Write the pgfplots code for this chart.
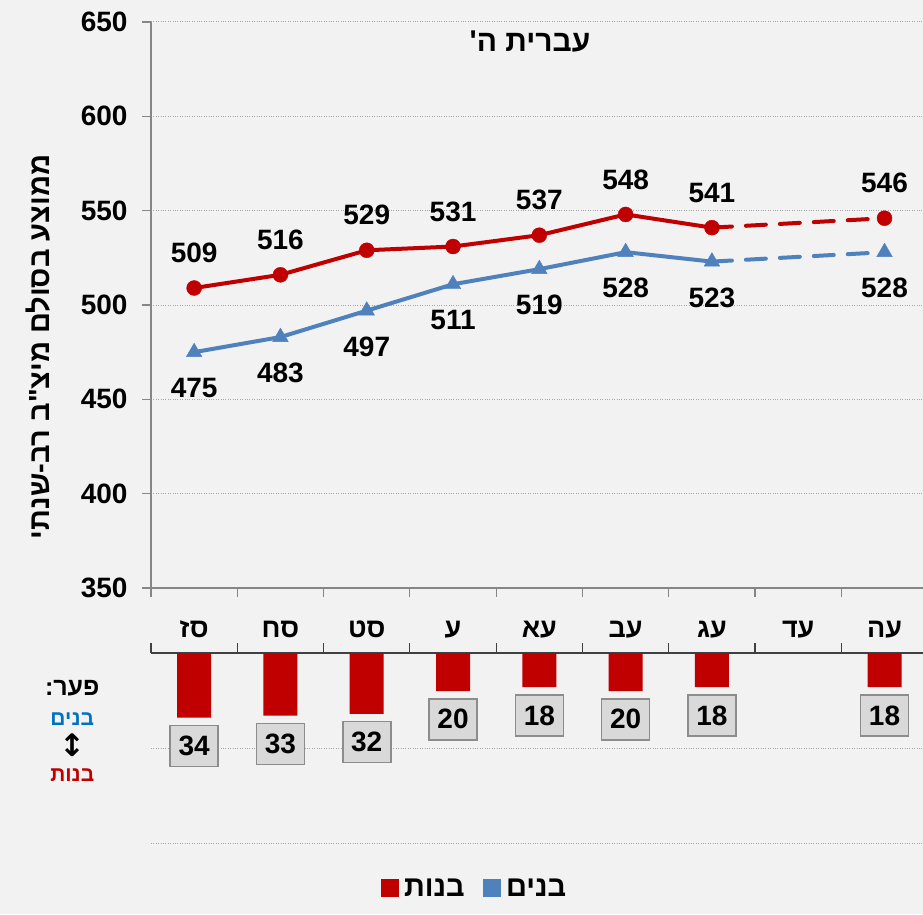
\documentclass[border=0pt]{standalone}
\usepackage{pgfplots}
\pgfplotsset{compat=1.18}
\usepackage{fontspec}
\setmainfont{Liberation Sans}
\newfontfamily\heb[Script=Hebrew]{Liberation Sans}
\newfontfamily\dejavu{DejaVu Sans}
\TeXXeTstate=1
\newcommand\fs[1]{\fontsize{#1}{#1}\selectfont\bfseries}
\definecolor{bg}{HTML}{F2F2F2}
\definecolor{myred}{HTML}{C00000}
\definecolor{myblue}{HTML}{4F81BD}
\definecolor{labblue}{HTML}{0070C0}
\definecolor{axgray}{HTML}{868686}
\definecolor{gridgray}{HTML}{A6A6A6}
\definecolor{boxfill}{HTML}{D9D9D9}
\definecolor{boxdraw}{HTML}{8C8C8C}

\begin{document}
\begin{tikzpicture}
\fill[bg] (0,0) rectangle (923pt,914pt);
\begin{axis}[
  at={(151pt,326pt)}, anchor=south west,
  width=772pt, height=566pt, scale only axis,
  xmin=-0.5, xmax=8.446, ymin=350, ymax=650,
  axis lines*=left,
  axis line style={axgray, line width=1.3pt},
  tick align=outside, major tick length=9pt,
  tick style={axgray, line width=1.2pt},
  xtick={-0.5,0.5,...,8.5}, xticklabels={},
  extra x ticks={0,1,2,3,4,5,6,7,8},
  extra x tick labels={{\heb\beginR סז\endR},{\heb\beginR סח\endR},{\heb\beginR סט\endR},{\heb\beginR ע\endR},{\heb\beginR עא\endR},{\heb\beginR עב\endR},{\heb\beginR עג\endR},{\heb\beginR עד\endR},{\heb\beginR עה\endR}},
  extra x tick style={major tick length=0pt, xticklabel style={anchor=base, yshift=-49pt}},
  xticklabel style={font=\fs{27}},
  ytick={350,400,...,650},
  yticklabel style={font=\fs{28}, xshift=-11pt},
  /pgf/number format/assume math mode=true,
  ymajorgrids, major grid style={dotted, gridgray, line width=1pt},
  ylabel={\heb\beginR ממוצע בסולם מיצ"ב רב-שנתי\endR},
  every axis y label/.style={at={(axis description cs:-0.146,0.426)}, rotate=90, anchor=center, font=\fs{29}},
  clip=false,
]
\addplot[myred, line width=4pt, dash pattern=on 20pt off 14pt, line cap=round, forget plot] coordinates {(6,541)(8,546)};
\addplot[myblue, line width=4pt, dash pattern=on 20pt off 14pt, line cap=round, forget plot] coordinates {(6,523)(8,528)};
\addplot[myred, line width=4pt, mark=*, mark size=7.5pt, mark options={solid, line width=0.4pt},
  nodes near coords, point meta=y,
  every node near coord/.style={font=\fs{28}, text=black, anchor=center, yshift=35pt}]
  coordinates {(0,509)(1,516)(2,529)(3,531)(4,537)(5,548)(6,541)};
\addplot[myred, only marks, mark=*, mark size=7.5pt, mark options={solid, line width=0.4pt},
  nodes near coords, point meta=y,
  every node near coord/.style={font=\fs{28}, text=black, anchor=center, yshift=35pt}]
  coordinates {(8,546)};
\addplot[myblue, line width=4pt, mark=triangle*, mark size=9pt, mark options={solid, line width=0.4pt},
  nodes near coords, point meta=y,
  every node near coord/.style={font=\fs{28}, text=black, anchor=center, yshift=-36pt}]
  coordinates {(0,475)(1,483)(2,497)(3,511)(4,519)(5,528)(6,523)};
\addplot[myblue, only marks, mark=triangle*, mark size=9pt, mark options={solid, line width=0.4pt},
  nodes near coords, point meta=y,
  every node near coord/.style={font=\fs{28}, text=black, anchor=center, yshift=-36pt}]
  coordinates {(8,528)};
\node[font=\fs{30}] at (axis description cs:0.491,0.965) {\heb\beginR עברית ה'\endR};
\end{axis}

\begin{axis}[
  at={(151pt,71pt)}, anchor=south west,
  width=772pt, height=190pt, scale only axis,
  xmin=-0.5, xmax=8.446, ymin=-100, ymax=0,
  axis x line*=top, axis y line*=left,
  y axis line style={draw=none},
  x axis line style={black!75, line width=1.3pt},
  xtick={-0.5,0.5,...,8.5}, xticklabels={},
  tick align=outside, major tick length=10pt,
  x tick style={black!75, line width=1.2pt},
  ytick={-100,-50,0}, yticklabels={}, y tick style={draw=none},
  ymajorgrids, major grid style={dotted, gridgray, line width=1pt},
  clip=false,
  legend style={at={(axis description cs:0.419,-0.237)}, anchor=center, draw=none, fill=none,
    font=\fs{29},
    /tikz/every odd column/.append style={column sep=4pt},
    /tikz/every even column/.append style={column sep=16pt}},
  legend columns=2,
]
\addplot[ybar, bar width=34pt, fill=myred, draw=none, forget plot,
  nodes near coords, point meta=explicit symbolic,
  every node near coord/.style={font=\fs{28}, text=black, anchor=north, yshift=-7pt,
    fill=boxfill, draw=boxdraw, line width=1.6pt, minimum width=48pt, minimum height=41pt, inner sep=0pt}]
  coordinates {(0,-34)[34] (1,-33)[33] (2,-32)[32] (3,-20)[20] (4,-18)[18] (5,-20)[20] (6,-18)[18] (8,-18)[18]};
\addlegendimage{legend image code/.code={\fill[myred] (0pt,-8.5pt) rectangle (17pt,8.5pt);}}
\addlegendentry{\heb\beginR בנות\endR}
\addlegendimage{legend image code/.code={\fill[myblue] (0pt,-8.5pt) rectangle (17pt,8.5pt);}}
\addlegendentry{\heb\beginR בנים\endR}
\node[font=\fs{25}] at (axis description cs:-0.102,0.816) {\heb\beginR פער:\endR};
\node[font=\fs{21}, text=labblue] at (axis description cs:-0.102,0.653) {\heb\beginR בנים\endR};
\node[font=\fs{31}] at (axis description cs:-0.102,0.516) {\dejavu ↕};
\node[font=\fs{21}, text=myred] at (axis description cs:-0.102,0.358) {\heb\beginR בנות\endR};
\end{axis}
\pgfresetboundingbox
\path (0,0) rectangle (923pt,914pt);
\end{tikzpicture}
\end{document}
